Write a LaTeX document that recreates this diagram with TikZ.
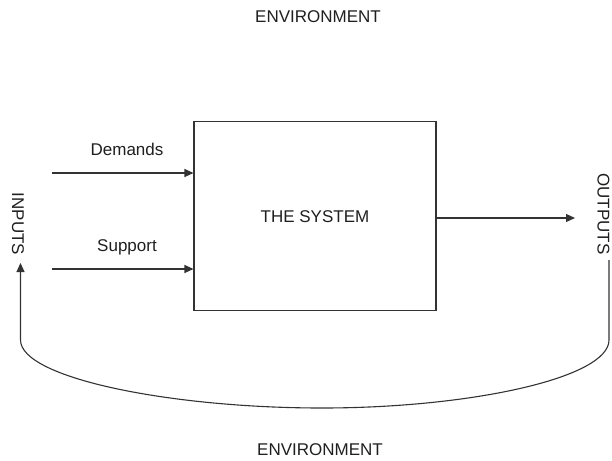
\documentclass[tikz,border=0pt]{standalone}
\usepackage{fontspec}
\setmainfont{Liberation Sans}
\usetikzlibrary{arrows.meta}
\begin{document}
\begin{tikzpicture}[x=1pt,y=-1pt,
  lbl/.style={font=\fontsize{17}{19}\selectfont, text=black!88, inner sep=0pt},
  conn/.style={draw=black!80, line width=1.1pt},
  arr/.style={conn, -{Triangle[length=9pt,width=8pt]}}]
\useasboundingbox (0,0) rectangle (612,460);
\node[lbl] (envtop) at (318,17) {ENVIRONMENT};
\node[lbl] (envbot) at (320,450) {ENVIRONMENT};
\node[draw=black!80, line width=1.1pt, minimum width=242pt, minimum height=189pt, inner sep=0pt] (sys) at (315,216) {};
\node[lbl] (systxt) at (315,217) {THE SYSTEM};
\node[lbl] (dem) at (127,149) {Demands};
\node[lbl] (sup) at (127,247) {Support};
\node[lbl, rotate=-90] (inp) at (18,224) {INPUTS};
\node[lbl, rotate=-90] (outp) at (603.5,214) {OUTPUTS};
\coordinate (d0) at (52,173);
\coordinate (s0) at (52,269);
\coordinate (o1) at (575,218);
\coordinate (itip) at (20.5,263);
\coordinate (rtop) at (609,260);
\draw[arr] (d0) -- (d0 -| sys.west);
\draw[arr] (s0) -- (s0 -| sys.west);
\draw[arr] (o1 -| sys.east) -- (o1);
\draw[arr] (rtop) -- (609,340) .. controls (609,378) and (470,408) .. (322,408)
  .. controls (170,408) and (20.5,378) .. (20.5,340) -- (itip);
\end{tikzpicture}
\end{document}
